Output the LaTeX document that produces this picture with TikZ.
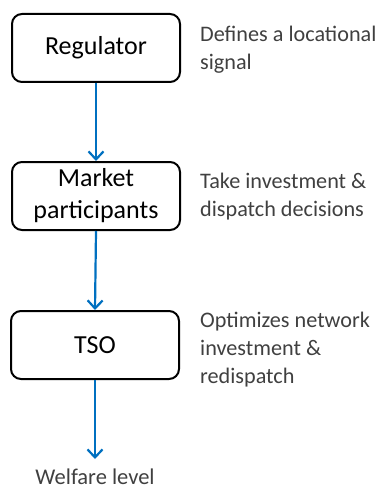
\documentclass[tikz,border=0pt]{standalone}
\usepackage{fontspec}
\setmainfont{Carlito}
\usetikzlibrary{arrows.meta}
\definecolor{arrowblue}{HTML}{0070C0}
\definecolor{sidegrey}{HTML}{404040}
\begin{document}
\begin{tikzpicture}[x=1pt,y=-1pt,
  stagebox/.style={draw=black,line width=2pt,rounded corners=10pt,minimum width=168pt,minimum height=68pt,align=center,inner sep=0pt,font=\fontsize{26}{32}\selectfont},
  sidetext/.style={anchor=base west,align=left,text=sidegrey,inner sep=0pt,font=\fontsize{22.2}{28}\selectfont},
  flow/.style={draw=arrowblue,line width=2.2pt,-{Straight Barb[length=8pt,width=15pt,line width=2.2pt]}}]
\useasboundingbox (0,0) rectangle (381,489);
\node[stagebox] (reg) at (96,48) {Regulator};
\node[stagebox] (mkt) at (96,196) {Market\\participants};
\node[stagebox] (tso) at (95,345) {TSO};
\node[text=sidegrey,anchor=base,inner sep=0pt,font=\fontsize{22.5}{27}\selectfont] (wel) at (95,484) {Welfare level};
\coordinate (welend) at (95,459);
\draw[flow] (reg.south) -- (mkt.north);
\draw[flow] (mkt.south) -- (tso.north);
\draw[flow] (tso.south) -- (welend);
\node[sidetext] (t1) at (200,70) {Defines a locational\\signal};
\node[sidetext] (t2) at (200,216) {Take investment \&\\dispatch decisions};
\node[sidetext] (t3) at (200,383) {Optimizes network\\investment \&\\redispatch};
\end{tikzpicture}
\end{document}
